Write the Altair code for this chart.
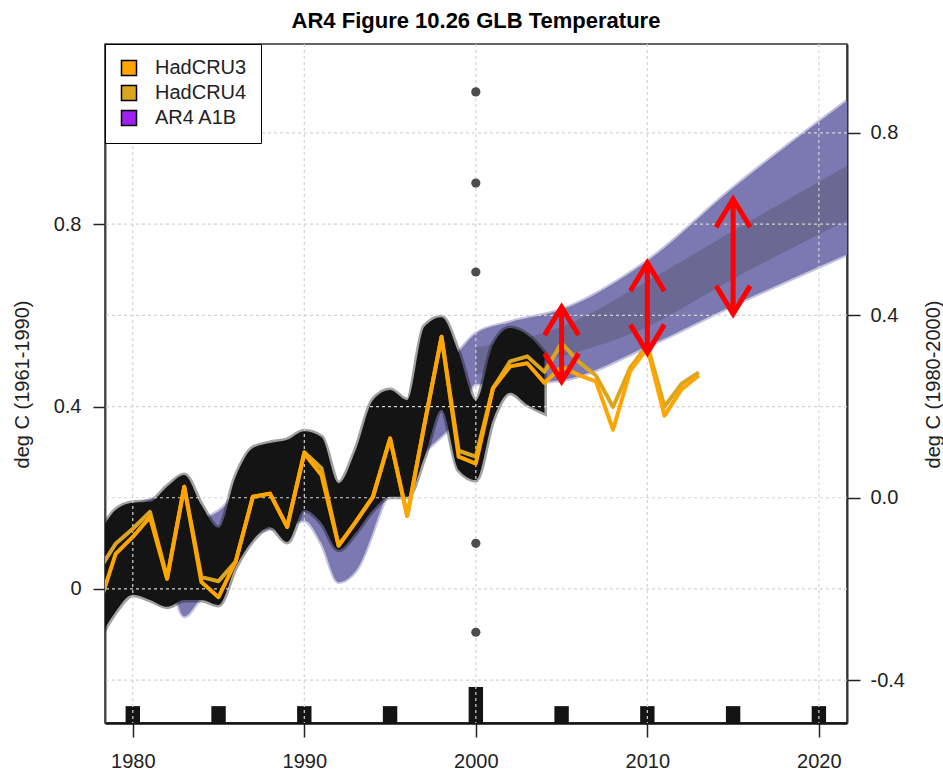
import altair as alt
import pandas as pd

# ---------------- data ----------------
YEARS = list(range(1978, 2014))
HADCRU3 = [-0.04, 0.077, 0.114, 0.158, 0.022, 0.224, 0.015, -0.018, 0.06, 0.202,
           0.209, 0.136, 0.297, 0.25, 0.095, 0.147, 0.202, 0.33, 0.16, 0.36,
           0.553, 0.29, 0.275, 0.44, 0.488, 0.495, 0.452, 0.487, 0.469, 0.455,
           0.349, 0.478, 0.528, 0.38, 0.438, 0.468]
HADCRU4 = [0.04, 0.099, 0.132, 0.169, 0.025, 0.224, 0.026, 0.017, 0.06, 0.202,
           0.209, 0.136, 0.30, 0.265, 0.095, 0.147, 0.202, 0.33, 0.16, 0.36,
           0.553, 0.303, 0.29, 0.44, 0.499, 0.51, 0.476, 0.539, 0.498, 0.468,
           0.399, 0.485, 0.535, 0.40, 0.45, 0.475]

# black observational envelope
BLACK_YEARS = list(range(1978, 2005))
BLACK_TOP = [0.118, 0.173, 0.189, 0.191, 0.224, 0.25, 0.184, 0.134, 0.246, 0.309,
             0.32, 0.327, 0.346, 0.333, 0.232, 0.305, 0.414, 0.436, 0.414, 0.575,
             0.596, 0.518, 0.414, 0.535, 0.572, 0.557, 0.518]
BLACK_BOTTOM = [-0.112, -0.05, -0.013, -0.024, -0.039, -0.024, -0.024, -0.035, 0.048, 0.107,
                0.136, 0.103, 0.173, 0.145, 0.086, 0.123, 0.173, 0.202, 0.202, 0.289,
                0.393, 0.261, 0.239, 0.371, 0.43, 0.404, 0.386]

# AR4 A1B model envelope
BAND_YEARS = [1978, 1980, 1982, 1983, 1984, 1985, 1987, 1989, 1990, 1991, 1992,
              1993, 1995, 1997, 1999, 2000, 2002, 2005, 2010, 2015, 2022]
BAND_LOW = [-0.02, 0.02, 0.03, -0.06, -0.02, 0.0, 0.12, 0.14, 0.15, 0.10, 0.015,
            0.04, 0.22, 0.30, 0.38, 0.45, 0.45, 0.458, 0.532, 0.622, 0.74]
BAND_HIGH = [0.10, 0.18, 0.20, 0.12, 0.15, 0.17, 0.25, 0.30, 0.33, 0.30, 0.20,
             0.22, 0.33, 0.45, 0.52, 0.56, 0.585, 0.612, 0.719, 0.879, 1.08]

CORE_YEARS = [2000, 2005, 2010, 2015, 2022]
CORE_LOW = [0.47, 0.51, 0.575, 0.68, 0.815]
CORE_HIGH = [0.53, 0.575, 0.675, 0.785, 0.935]

MARKER_YEAR = 2000
MARKER_VALUES = [1.09, 0.89, 0.695, 0.10, -0.095]

RUG_YEARS = [1980, 1985, 1990, 1995, 2000, 2005, 2010, 2015, 2020]
RUG_TOPS = [-0.257, -0.257, -0.257, -0.257, -0.215, -0.257, -0.257, -0.257, -0.257]

ARROW_YEARS = [2005, 2010, 2015]
ARROW_LOW = [0.455, 0.518, 0.603]
ARROW_HIGH = [0.618, 0.715, 0.855]

SERIES = ["HadCRU3", "HadCRU4", "AR4 A1B"]
SERIES_COLORS = ["#ffa500", "#daa520", "#a020f0"]

X_TICKS = [1980, 1990, 2000, 2010, 2020]
Y_GRID = [-0.2, 0.0, 0.2, 0.4, 0.6, 0.8, 1.0]
LEFT_TICKS = [0.0, 0.4, 0.8]
RIGHT_TICKS = [-0.4, 0.0, 0.4, 0.8]
RIGHT_OFFSET = 0.2  # right axis = left axis - 0.2

X_DOMAIN = [1978.38, 2021.64]
Y_DOMAIN = [-0.294, 1.195]

# ---------------- tables ----------------
obs = pd.concat([
    pd.DataFrame({"year": YEARS, "value": HADCRU4, "series": "HadCRU4"}),
    pd.DataFrame({"year": YEARS, "value": HADCRU3, "series": "HadCRU3"}),
])
black_df = pd.DataFrame({"year": BLACK_YEARS, "lo": BLACK_BOTTOM, "hi": BLACK_TOP})
band_df = pd.DataFrame({"year": BAND_YEARS, "lo": BAND_LOW, "hi": BAND_HIGH})
core_df = pd.DataFrame({"year": CORE_YEARS, "lo": CORE_LOW, "hi": CORE_HIGH})
marker_df = pd.DataFrame({"year": [MARKER_YEAR] * len(MARKER_VALUES), "value": MARKER_VALUES})
rug_df = pd.DataFrame({"year": RUG_YEARS, "top": RUG_TOPS})
arrow_df = pd.DataFrame({"year": ARROW_YEARS, "lo": ARROW_LOW, "hi": ARROW_HIGH})
xgrid_df = pd.DataFrame({"year": X_TICKS})
ygrid_df = pd.DataFrame({"value": Y_GRID})
right_df = pd.DataFrame({"value": RIGHT_TICKS})
legend_df = pd.DataFrame({"name": SERIES, "year": [MARKER_YEAR] * 3,
                          "value": MARKER_VALUES[:3]})

FONT = "Liberation Sans"
TXT = "#222222"

xs = alt.Scale(domain=X_DOMAIN, nice=False, zero=False)
ys = alt.Scale(domain=Y_DOMAIN, nice=False, zero=False)

x_axis = alt.Axis(values=X_TICKS, format="d", title=None, grid=False,
                  tickSize=14, tickWidth=1.5, tickColor="#222",
                  domainColor="#111", domainWidth=2.5,
                  labelFontSize=20, labelFont=FONT, labelColor=TXT, labelPadding=14)
y_axis = alt.Axis(values=LEFT_TICKS,
                  labelExpr="datum.value == 0 ? '0' : format(datum.value, '.1f')",
                  title="deg C (1961-1990)", grid=False,
                  tickSize=12, tickWidth=1.5, tickColor="#222",
                  domainColor="#444", domainWidth=2,
                  labelFontSize=20, labelFont=FONT, labelColor=TXT, labelPadding=12,
                  titleFont=FONT, titleFontSize=20, titleFontWeight="normal",
                  titleColor=TXT, titleAngle=270, titleX=-83, titleY=340,
                  titleAlign="center", titleBaseline="middle")


def X(field):
    return alt.X(field, type="quantitative", scale=xs, axis=x_axis)


def Y(field):
    return alt.Y(field, type="quantitative", scale=ys, axis=y_axis)


band = alt.Chart(band_df).mark_area(
    color="#7b78b2", interpolate="monotone", clip=True,
    stroke="#7b78b2", strokeWidth=4, strokeOpacity=0.45
).encode(x=X("year"), y=Y("lo"), y2="hi")

core = alt.Chart(core_df).mark_area(
    color="#6c6894", interpolate="monotone", clip=True
).encode(x=X("year"), y=Y("lo"), y2="hi")

black = alt.Chart(black_df).mark_area(
    color="#141414", interpolate="monotone", clip=True,
    stroke="#141414", strokeWidth=5, strokeOpacity=0.4
).encode(x=X("year"), y=Y("lo"), y2="hi")

rug = alt.Chart(rug_df).transform_calculate(
    x0="datum.year - 0.42", x1="datum.year + 0.42", base=str(Y_DOMAIN[0])
).mark_rect(color="#141414", clip=True).encode(
    x=X("x0"), x2="x1", y=Y("top"), y2="base")

vgrid = alt.Chart(xgrid_df).mark_rule(
    color="#d3d3d3", strokeDash=[3, 3], strokeWidth=1.2
).encode(x=X("year"))

hgrid = alt.Chart(ygrid_df).mark_rule(
    color="#d3d3d3", strokeDash=[3, 3], strokeWidth=1.2
).encode(y=Y("value"))

markers = alt.Chart(marker_df).mark_point(
    filled=True, size=85, color="#3a3a3a", opacity=0.9
).encode(x=X("year"), y=Y("value"))

lines = alt.Chart(obs).mark_line(
    strokeWidth=4, strokeJoin="round", clip=True
).encode(
    x=X("year"), y=Y("value"),
    stroke=alt.Stroke("series:N",
                      scale=alt.Scale(domain=SERIES[:2], range=SERIES_COLORS[:2]),
                      legend=None),
)

# invisible marks that only carry the legend
legend_layer = alt.Chart(legend_df).mark_square(
    filled=True, opacity=0, stroke="black", strokeWidth=1.5
).encode(
    x=X("year"), y=Y("value"),
    fill=alt.Fill("name:N", scale=alt.Scale(domain=SERIES, range=SERIES_COLORS),
                  legend=alt.Legend(title=None, orient="top-left", offset=0,
                                    padding=14, rowPadding=3,
                                    strokeColor="black", fillColor="white",
                                    symbolType="square", symbolSize=225,
                                    symbolOpacity=1,
                                    symbolStrokeColor="black", symbolStrokeWidth=1.5,
                                    labelFontSize=20, labelFont=FONT, labelColor=TXT,
                                    labelOffset=16, zindex=1)),
)

shaft = alt.Chart(arrow_df).mark_rule(color="#ff0000", strokeWidth=5).encode(
    x=X("year"), y=Y("lo"), y2="hi")
head_up = alt.Chart(arrow_df).mark_point(
    shape="M-1,1.65L0,0L1,1.65", filled=False, size=1156,
    color="#ff0000", strokeWidth=5, opacity=1
).encode(x=X("year"), y=Y("hi"))
head_down = alt.Chart(arrow_df).mark_point(
    shape="M-1,-1.65L0,0L1,-1.65", filled=False, size=1156,
    color="#ff0000", strokeWidth=5, opacity=1
).encode(x=X("year"), y=Y("lo"))

main = alt.layer(band, core, black, rug, vgrid, hgrid, markers, lines,
                 legend_layer, shaft, head_up, head_down)

right = alt.Chart(right_df).mark_point(opacity=0).encode(
    y=alt.Y("value:Q",
            scale=alt.Scale(domain=[Y_DOMAIN[0] - RIGHT_OFFSET, Y_DOMAIN[1] - RIGHT_OFFSET],
                            nice=False, zero=False),
            axis=alt.Axis(orient="right", values=RIGHT_TICKS,
                          labelExpr="datum.value < 0 ? '-' + format(-datum.value, '.1f') : format(datum.value, '.1f')",
                          title="deg C (1980-2000)", grid=False,
                          tickSize=13, tickWidth=1.5, tickColor="#222",
                          domainColor="#333", domainWidth=2,
                          labelFontSize=20, labelFont=FONT, labelColor=TXT, labelPadding=10,
                          titleFont=FONT, titleFontSize=20, titleFontWeight="normal",
                          titleColor=TXT, titleAngle=270, titleX=86, titleY=340,
                          titleAlign="center", titleBaseline="middle"))
)

chart = alt.layer(main, right).resolve_scale(y="independent").properties(
    width=742, height=679,
    title=alt.TitleParams("AR4 Figure 10.26 GLB Temperature", fontSize=22,
                          fontWeight="bold", font=FONT, anchor="middle",
                          offset=10, color="black"),
    autosize=alt.AutoSizeParams(type="none"),
    padding={"left": 105, "top": 44, "right": 96, "bottom": 50},
    background="white",
).configure_view(stroke="#333", strokeWidth=1.5)

chart.save("out.html", embed_options={"renderer": "svg", "actions": False})
